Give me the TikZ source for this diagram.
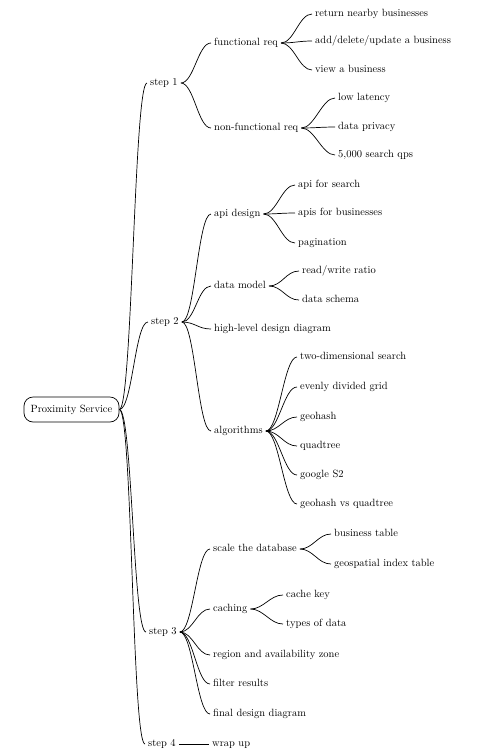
\documentclass[tikz,border=0pt]{standalone}
\usepackage{tikz}
\begin{document}
\begin{tikzpicture}[
  x=1pt, y=-1pt,
  font=\fontsize{10.5}{12}\selectfont,
  item/.style={anchor=west, inner xsep=3pt, inner ysep=1pt, text height=1.6ex, text depth=.3ex},
  root/.style={draw, line width=0.7pt, rounded corners=9pt, minimum width=95pt, minimum height=25pt, inner sep=2pt},
  branch/.style={line width=0.7pt, to path={.. controls +(13,0) and +(-13,0) .. (\tikztotarget)}}
]
\useasboundingbox (0,0) rectangle (500,756);

\node[root] (ps) at (71.5,409.5) {Proximity Service};

\node[item] (s1) at (147,83) {step 1};
\node[item] (s2) at (148,322) {step 2};
\node[item] (s3) at (146,632) {step 3};
\node[item] (s4) at (145,744) {step 4};
\node[item] (wrap) at (209,744) {wrap up};

% step 1
\node[item] (freq) at (211,43) {functional req};
\node[item] (nfreq) at (211,128) {non-functional req};
\node[item] (nearby) at (312,14) {return nearby businesses};
\node[item] (crud) at (312,41) {add/delete/update a business};
\node[item] (view) at (312,70) {view a business};
\node[item] (lat) at (335,98) {low latency};
\node[item] (priv) at (335,127) {data privacy};
\node[item] (qps) at (335,155) {5,000 search qps};

% step 2
\node[item] (api) at (211,214) {api design};
\node[item] (dm) at (211,286) {data model};
\node[item] (hld) at (211,329) {high-level design diagram};
\node[item] (algo) at (211,431) {algorithms};
\node[item] (search) at (295,185) {api for search};
\node[item] (biz) at (295,213) {apis for businesses};
\node[item] (page) at (295,243) {pagination};
\node[item] (rw) at (299,271) {read/write ratio};
\node[item] (schema) at (299,300) {data schema};
\node[item] (twod) at (297,357) {two-dimensional search};
\node[item] (grid) at (297,387) {evenly divided grid};
\node[item] (geo) at (297,417) {geohash};
\node[item] (quad) at (297,446) {quadtree};
\node[item] (gs2) at (297,475) {google S2};
\node[item] (gvq) at (297,504) {geohash vs quadtree};

% step 3
\node[item] (sdb) at (210,549) {scale the database};
\node[item] (cache) at (210,609) {caching};
\node[item] (raz) at (210,655) {region and availability zone};
\node[item] (filt) at (210,684) {filter results};
\node[item] (fdd) at (210,714) {final design diagram};
\node[item] (btab) at (331,534) {business table};
\node[item] (gtab) at (331,564) {geospatial index table};
\node[item] (ckey) at (283,595) {cache key};
\node[item] (dtype) at (283,624) {types of data};

% branches
\foreach \c in {s1,s2,s3,s4} \draw[branch] (ps.east) to (\c.west);
\draw[line width=0.7pt] (s4.east) -- (wrap.west);
\foreach \c in {freq,nfreq} \draw[branch] (s1.east) to (\c.west);
\foreach \c in {nearby,crud,view} \draw[branch] (freq.east) to (\c.west);
\foreach \c in {lat,priv,qps} \draw[branch] (nfreq.east) to (\c.west);
\foreach \c in {api,dm,hld,algo} \draw[branch] (s2.east) to (\c.west);
\foreach \c in {search,biz,page} \draw[branch] (api.east) to (\c.west);
\foreach \c in {rw,schema} \draw[branch] (dm.east) to (\c.west);
\foreach \c in {twod,grid,geo,quad,gs2,gvq} \draw[branch] (algo.east) to (\c.west);
\foreach \c in {sdb,cache,raz,filt,fdd} \draw[branch] (s3.east) to (\c.west);
\foreach \c in {btab,gtab} \draw[branch] (sdb.east) to (\c.west);
\foreach \c in {ckey,dtype} \draw[branch] (cache.east) to (\c.west);
\end{tikzpicture}
\end{document}
